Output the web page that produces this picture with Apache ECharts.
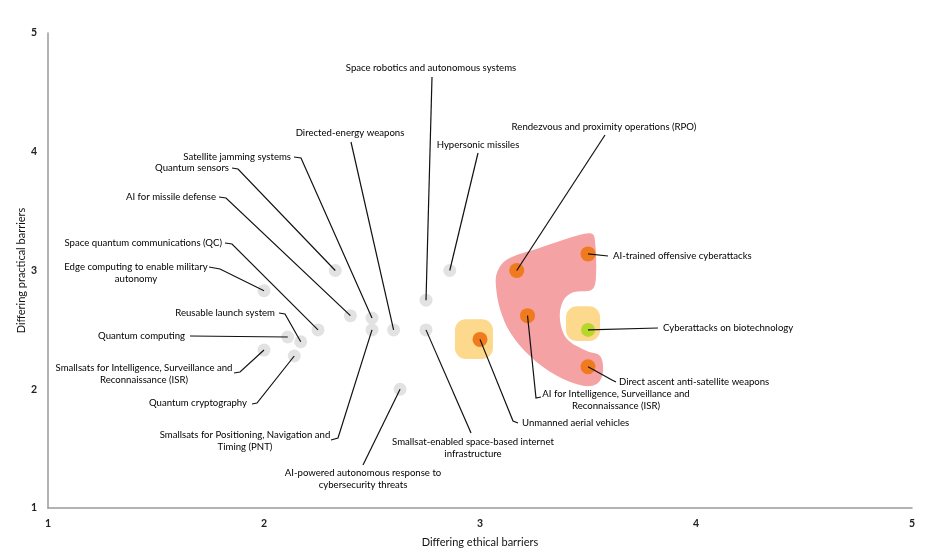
<!DOCTYPE html>
<html><head><meta charset="utf-8">
<script src="https://cdn.jsdelivr.net/npm/echarts@6/dist/echarts.min.js"></script>
<style>html,body{margin:0;padding:0;background:#fff}#c{width:936px;height:553px}</style>
</head><body><div id="c"></div>
<script>
// ---- data ----
const technologies = [
  'Space robotics and autonomous systems',
  'Directed-energy weapons',
  'Hypersonic missiles',
  'Rendezvous and proximity operations (RPO)',
  'Satellite jamming systems',
  'Quantum sensors',
  'AI for missile defense',
  'Space quantum communications (QC)',
  'Edge computing to enable military\nautonomy',
  'Reusable launch system',
  'Quantum computing',
  'Smallsats for Intelligence, Surveillance and\nReconnaissance (ISR)',
  'Quantum cryptography',
  'Smallsats for Positioning, Navigation and\nTiming (PNT)',
  'AI-powered autonomous response to\ncybersecurity threats',
  'Smallsat-enabled space-based internet\ninfrastructure',
  'Unmanned aerial vehicles',
  'AI for Intelligence, Surveillance and\nReconnaissance (ISR)',
  'Direct ascent anti-satellite weapons',
  'Cyberattacks on biotechnology',
  'AI-trained offensive cyberattacks'
];
const ethicalBarriers   = [2.75, 2.60, 2.86, 3.17, 2.50, 2.33, 2.40, 2.25, 2.00, 2.17, 2.11, 2.00, 2.14, 2.50, 2.63, 2.75, 3.00, 3.22, 3.50, 3.50, 3.50];
const practicalBarriers = [2.75, 2.50, 3.00, 3.00, 2.60, 3.00, 2.62, 2.50, 2.83, 2.40, 2.44, 2.33, 2.28, 2.50, 2.00, 2.50, 2.42, 2.62, 2.19, 2.50, 3.14];
const riskGroup = ['low','low','low','high','low','low','low','low','low','low','low','low','low','low','low','low','high','high','high','mid','high'];
const xTicks = [1, 2, 3, 4, 5];
const yTicks = [1, 2, 3, 4, 5];
// highlighted zones (in data units)
const pinkZone = [[3.079,2.983],[3.125,3.092],[3.278,3.192],[3.463,3.301],[3.519,3.310],[3.532,3.259],[3.537,2.950],[3.519,2.841],[3.431,2.816],[3.384,2.741],[3.370,2.590],[3.403,2.423],[3.495,2.322],[3.556,2.280],[3.569,2.146],[3.542,2.046],[3.477,2.029],[3.356,2.113],[3.231,2.280],[3.139,2.481],[3.093,2.674],[3.074,2.866]];
const yellowZones = [[2.884,2.255,3.060,2.590],[3.398,2.406,3.556,2.699]];

// ---- label layout (pixels) ----
const labelLayout = [
  {x:431,y:68,align:'center',path:[[432,77]]},
  {x:350,y:133,align:'center',path:[[351,142]]},
  {x:478,y:145,align:'center',path:[[478,153]]},
  {x:604,y:127,align:'center',path:[[605,135]]},
  {x:291,y:157,align:'right',path:[[301,158],[294,157]]},
  {x:229,y:168,align:'right',path:[[238,169],[232,168]]},
  {x:216,y:197,align:'right',path:[[226,198],[219,197]]},
  {x:222,y:243,align:'right',path:[[232,244],[225,243]]},
  {x:136,y:273,align:'center',path:[[220,269],[209,267]]},
  {x:275,y:313,align:'right',path:[[285,314],[279,313]]},
  {x:185,y:336,align:'right',path:[[190,336]]},
  {x:144,y:374,align:'center',path:[[240,372],[234,373]]},
  {x:247,y:403,align:'right',path:[[257,403],[252,404]]},
  {x:245,y:441,align:'center',path:[[338,438],[331,440]]},
  {x:363,y:479,align:'center',path:[[363,465]]},
  {x:473,y:448,align:'center',path:[[471,433]]},
  {x:522,y:423,align:'left',path:[[513,421],[518,423]]},
  {x:616,y:400,align:'center',path:[[536,398],[541,397]]},
  {x:619,y:382,align:'left',path:[[612,380],[616,382]]},
  {x:663,y:328,align:'left',path:[[658,328]]},
  {x:613,y:256,align:'left',path:[[608,256]]}
];

const groupColor = {low:'#e2e2e2', high:'#ef7b1e', mid:'#b9d62b'};
const groupSize = {low:13, high:15, mid:14};
const FONT = 'Lato, "Open Sans", sans-serif';

const points = technologies.map((n, i) => ({
  name: n,
  value: [ethicalBarriers[i], practicalBarriers[i]],
  symbolSize: groupSize[riskGroup[i]],
  itemStyle: {color: groupColor[riskGroup[i]]}
}));

const chart = echarts.init(document.getElementById('c'), null, {renderer:'canvas'});
chart.setOption({
  animation: false,
  backgroundColor: '#ffffff',
  grid: {left: 48, right: 24, top: 33, bottom: 43},
  xAxis: {
    type: 'value', min: xTicks[0], max: xTicks[xTicks.length-1], interval: 1,
    name: 'Differing ethical barriers', nameLocation: 'middle', nameGap: 29, nameMoveOverlap: false,
    nameTextStyle: {fontFamily: FONT, fontSize: 11, color: '#111'},
    axisLine: {show: true, lineStyle: {color: '#9a9a9a', width: 1.5}},
    axisTick: {show: false}, splitLine: {show: false},
    axisLabel: {margin: 10, fontFamily: FONT, fontSize: 10.5, color: '#222', fontWeight: 'bold'}
  },
  yAxis: {
    type: 'value', min: yTicks[0], max: yTicks[yTicks.length-1], interval: 1,
    name: 'Differing practical barriers', nameLocation: 'middle', nameGap: 21, nameMoveOverlap: false,
    nameTextStyle: {fontFamily: FONT, fontSize: 11, color: '#111'},
    axisLine: {show: true, lineStyle: {color: '#9a9a9a', width: 1.5}},
    axisTick: {show: false}, splitLine: {show: false},
    axisLabel: {margin: 11, fontFamily: FONT, fontSize: 10.5, color: '#222', fontWeight: 'bold'}
  },
  series: [
    {
      type: 'custom', z: 1, silent: true,
      data: [0],
      renderItem: function (params, api) {
        const pts = pinkZone.map(p => api.coord(p));
        const children = [{
          type: 'polygon', shape: {points: pts, smooth: 0.35},
          style: {fill: '#f4a2a3', stroke: null}
        }];
        yellowZones.forEach(z => {
          const a = api.coord([z[0], z[3]]);
          const b = api.coord([z[2], z[1]]);
          children.push({type: 'rect', shape: {x: a[0], y: a[1], width: b[0]-a[0], height: b[1]-a[1], r: 11},
            style: {fill: '#fcd98c'}});
        });
        return {type: 'group', children: children};
      }
    },
    {
      type: 'scatter', z: 3, data: points,
      itemStyle: {opacity: 1}
    },
    {
      type: 'custom', z: 5, silent: true,
      data: technologies.map((n, i) => [ethicalBarriers[i], practicalBarriers[i]]),
      renderItem: function (params, api) {
        const i = params.dataIndex;
        const p = api.coord([api.value(0), api.value(1)]);
        const L = labelLayout[i];
        return {type: 'group', children: [
          {type: 'polyline', shape: {points: [p].concat(L.path)},
           style: {stroke: '#111', lineWidth: 1.2, fill: null}},
          {type: 'text', style: {text: technologies[i], x: L.x, y: L.y,
            textAlign: L.align, align: L.align, textVerticalAlign: 'middle', verticalAlign: 'middle',
            font: '9.6px ' + FONT, fill: '#000', lineHeight: 12}}
        ]};
      }
    }
  ]
});
</script></body></html>
